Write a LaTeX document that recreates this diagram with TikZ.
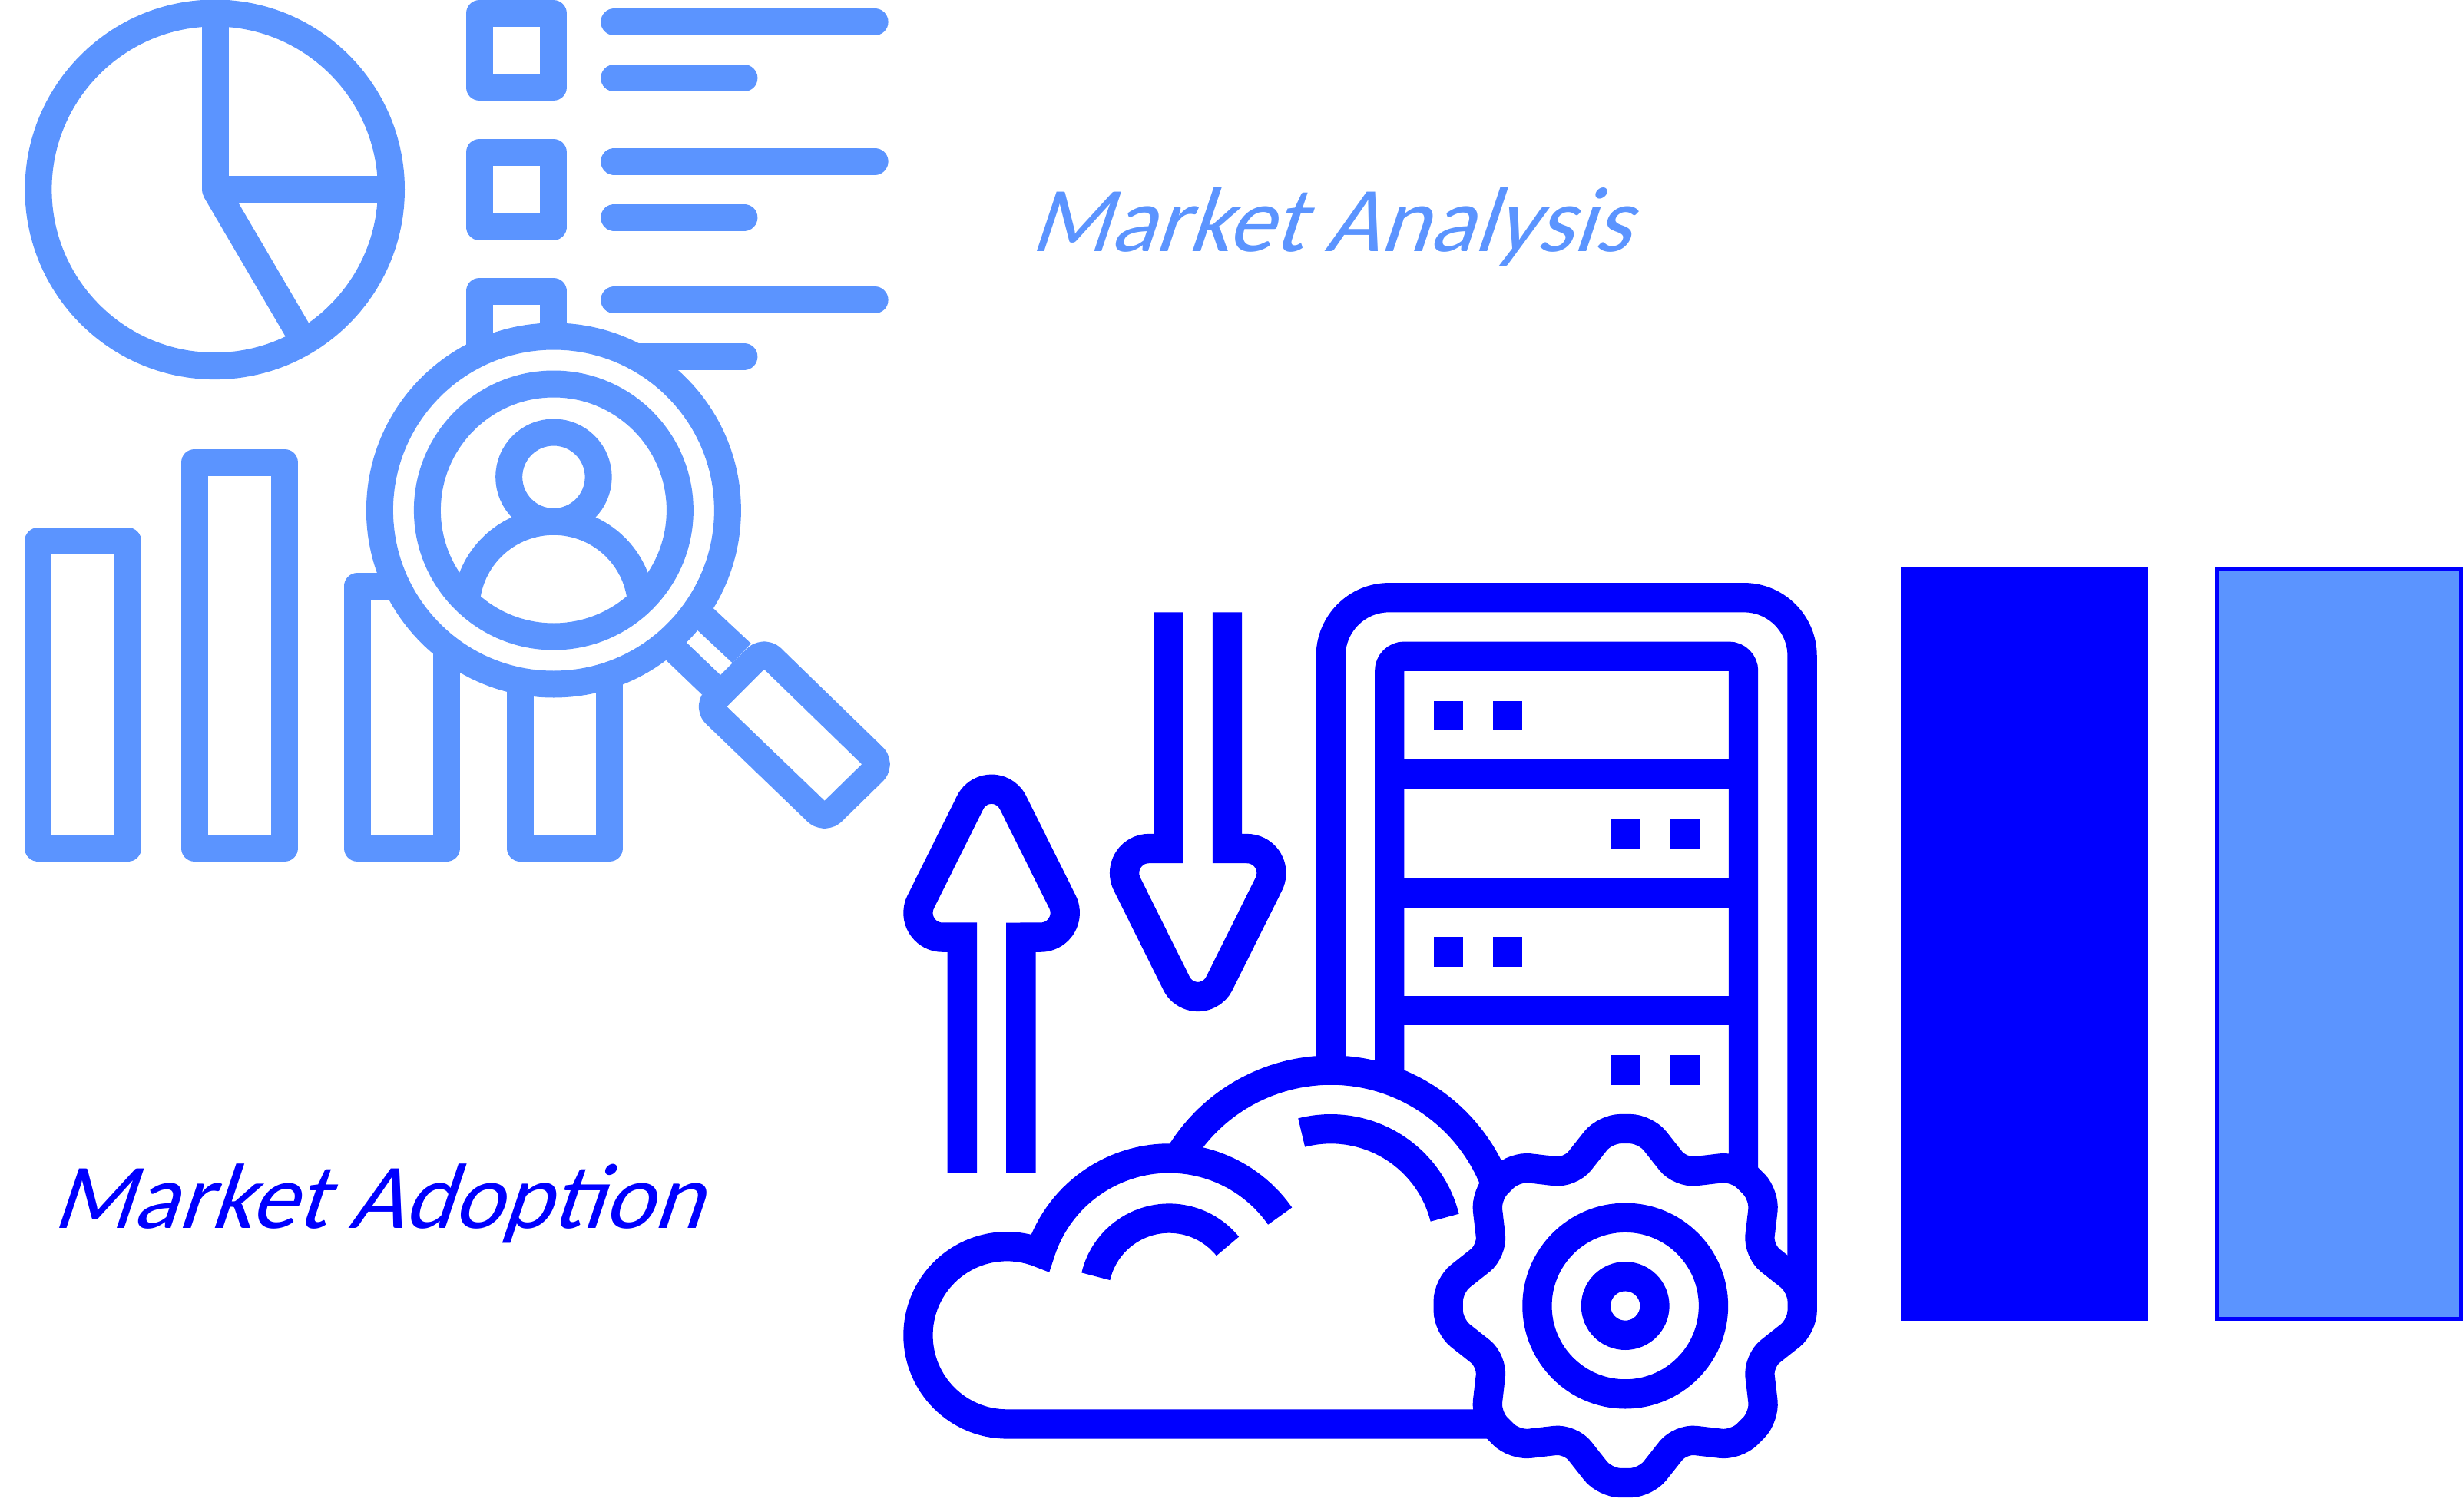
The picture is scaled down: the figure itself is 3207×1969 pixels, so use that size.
\documentclass[tikz,border=0pt]{standalone}
\usepackage{graphicx}
\usepackage{fontspec}
\usepackage{xcolor}
\usepackage{tikz}
\setmainfont{Carlito}
\newfontfamily\labelfont[FakeSlant=0.33]{Carlito}
\definecolor{lightblue}{RGB}{91, 148, 255}
\definecolor{deepblue}{RGB}{0, 0, 255}
\tikzset{
    analysisline/.style={draw=lightblue, line width=35pt, line join=round},
    cloudline/.style={draw=deepblue, line width=38.3pt},
    labeltext/.style={anchor=base west, inner sep=0pt, font=\labelfont}
}

\begin{document}
\begin{tikzpicture}[x=1pt, y=-1pt]
    \useasboundingbox (0,0) rectangle (3207,1969);

    % Pie chart
    \draw[analysisline] (279.7,246.8) circle (229.8);
    \draw[analysisline] (280,17) -- (280,246.8) -- (509,246.8);
    \draw[analysisline] (280,246.8) -- (396,445);

    % Squares and text lines
    \draw[analysisline] (624.1,17.6) rectangle (720.6,113.7);
    \draw[analysisline] (624.1,198.4) rectangle (720.6,295.2);
    \draw[analysisline] (624.1,451) -- (624.1,379.2) -- (720.6,379.2) -- (720.6,432.7);
    \draw[analysisline, line cap=round] (799.7,28.6) -- (1139.1,28.6);
    \draw[analysisline, line cap=round] (799.7,101.9) -- (968.9,101.9);
    \draw[analysisline, line cap=round] (799.7,210.1) -- (1139.1,210.1);
    \draw[analysisline, line cap=round] (799.7,283.1) -- (968.9,283.1);
    \draw[analysisline, line cap=round] (799.7,390.9) -- (1139.1,390.9);
    \draw[analysisline, line cap=round] (799.7,464.2) -- (968.9,464.2);

    % Bars
    \draw[analysisline] (49.7,704.8) rectangle (166.8,1104.5);
    \draw[analysisline] (253.3,602.1) rectangle (370.4,1104.5);
    \draw[analysisline] (520.4,763.5) -- (465.3,763.5) -- (465.3,1104.5) -- (581.6,1104.5) -- (581.6,828.7);
    \draw[analysisline] (677.3,843.4) -- (677.3,1104.5) -- (793.6,1104.5) -- (793.6,843.4);

    % Magnifier
    \draw[analysisline] (903,792) -- (965.8,850.7);
    \draw[analysisline] (864.8,833.1) -- (926,891.8);
    \draw[analysisline, rounded corners=14pt] (994.9,847.1) -- (1147.2,995.2) -- (1073.7,1067.1) -- (921.4,920.4) -- cycle;
    \draw[analysisline, fill=white] (720.9,664.5) circle (226.5);
    \draw[analysisline] (720.9,664.5) circle (164.5);
    \draw[analysisline] (720.9,793.3) ++(187:114) arc[start angle=187, end angle=353, radius=114];
    \draw[analysisline] (720.9,621.2) circle (58.2);

    % Server, arrows, cloud and gear
    \begin{scope}[shift={(1150,720)}, scale=0.7972]
        \draw[cloudline, rounded corners=76pt] (731,850) -- (731,73) -- (1501,73) -- (1501,1225);
        \draw[cloudline, rounded corners=19pt] (827,860) -- (827,169) -- (1405,169) -- (1405,1030);
        \draw[cloudline] (827,362) -- (1405,362);
        \draw[cloudline] (827,555) -- (1405,555);
        \draw[cloudline] (827,748) -- (1405,748);
        \fill[deepblue] (899,242) rectangle (947,290);
        \fill[deepblue] (996,242) rectangle (1044,290);
        \fill[deepblue] (1188,434) rectangle (1236,483);
        \fill[deepblue] (1285,434) rectangle (1333,483);
        \fill[deepblue] (899,627) rectangle (947,676);
        \fill[deepblue] (996,627) rectangle (1044,676);
        \fill[deepblue] (1188,820) rectangle (1236,869);
        \fill[deepblue] (1285,820) rectangle (1333,869);

        % Up and down arrows
        \draw[cloudline] (129,1013) -- (129,628) -- (97,628)
            arc[start angle=90, end angle=206.57, radius=40] -- (142.1,407.6)
            arc[start angle=206.57, end angle=333.43, radius=39] -- (292.8,570.1)
            arc[start angle=-26.57, end angle=90, radius=40] -- (225,628) -- (225,1013);
        \draw[cloudline] (466,97) -- (466,483) -- (434,483)
            arc[start angle=270, end angle=153.43, radius=40] -- (479.1,703.4)
            arc[start angle=153.43, end angle=26.57, radius=39] -- (629.8,540.9)
            arc[start angle=26.57, end angle=-90, radius=40] -- (562,483) -- (562,97);

        % Cloud
        \draw[cloudline] (1010,1423) -- (202,1423)
            arc[start angle=90, end angle=292, radius=145]
            arc[start angle=197.5, end angle=325, radius=221];
        \draw[cloudline] (731,1133) ++(210:288) arc[start angle=210, end angle=340, radius=288];
        \draw[cloudline] (731,1133) ++(255.6:192) arc[start angle=255.6, end angle=345.8, radius=192];
        \draw[cloudline] (467,1210) ++(193.2:123) arc[start angle=193.2, end angle=321, radius=123];

        % Gear
        \begin{scope}[shift={(1212,1230)}]
            \draw[cloudline, fill=white, rounded corners=20pt] (-22.5:235)
                \foreach \k in {0,45,...,270} {
                    -- (\k-6.5:291) -- (\k+6.5:291) -- (\k+22.5:235)
                } -- (308.5:291) -- (321.5:291) -- cycle;
            \draw[cloudline] (0,0) circle (144);
            \draw[cloudline] (0,0) circle (48);
        \end{scope}
    \end{scope}

    % Legend blocks
    \fill[deepblue] (2475,738) rectangle (2797,1720);
    \draw[draw=deepblue, fill=lightblue, line width=4.6pt] (2886.3,740.3) rectangle (3204.7,1717.7);

    % Labels
    \node[labeltext, text=lightblue] (analysislabel) at (1340,327.7) {\resizebox{782pt}{83.7pt}{Market Analysis}};
    \node[labeltext, text=deepblue] (adoptionlabel) at (67,1599.7) {\resizebox{846pt}{83.7pt}{Market Adoption}};
\end{tikzpicture}
\end{document}
